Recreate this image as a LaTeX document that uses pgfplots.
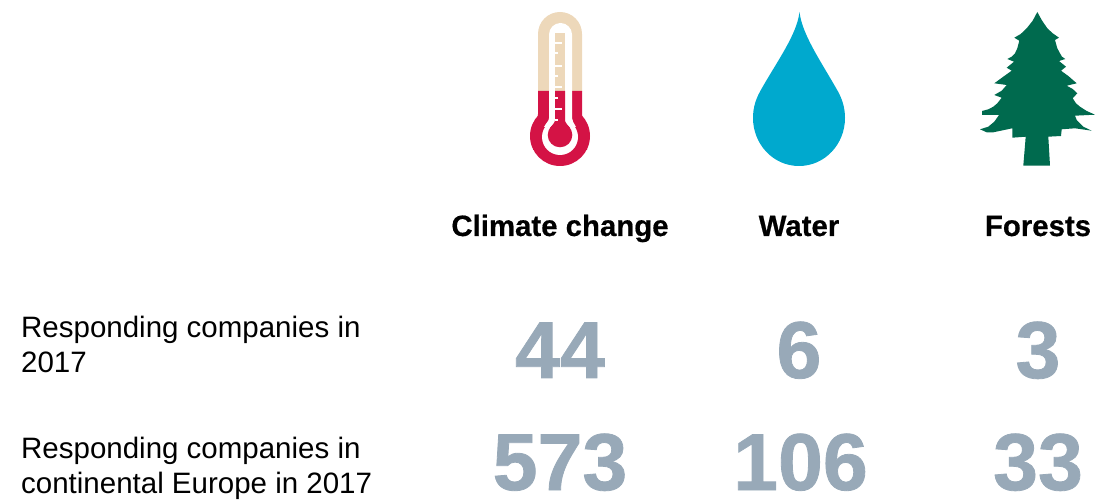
\documentclass[border=0pt]{standalone}
\usepackage{pgfplots}
\pgfplotsset{compat=1.18}
\usepackage{fontspec}
\setmainfont{Liberation Sans}
\newfontfamily\headfont[FakeBold=0.5]{Liberation Sans Bold}
\newfontfamily\numfont[FakeBold=1.0]{Liberation Sans Bold}
\definecolor{beige}{HTML}{EDD8BA}
\definecolor{crim}{HTML}{D41345}
\definecolor{drop}{HTML}{00A9CE}
\definecolor{tree}{HTML}{006A4E}
\definecolor{num}{HTML}{98A9B8}
\begin{document}
\begin{tikzpicture}
\begin{axis}[
  scale only axis, width=1095bp, height=500bp,
  xmin=0, xmax=1095, ymin=0, ymax=500, y dir=reverse,
  hide axis, clip=false,
]
\coordinate (tl) at (axis cs:0,0);
\coordinate (br) at (axis cs:1095,500);
% thermometer
\fill[beige] (axis cs:538,34) arc[start angle=180,end angle=0,radius=22bp] -- (axis cs:582,92) -- (axis cs:538,92) -- cycle;
\fill[crim] (axis cs:538,91) -- (axis cs:582,91) -- (axis cs:582,114) .. controls (axis cs:582,118) and (axis cs:584,120) .. (axis cs:587,124)
  -- (axis cs:587,150) -- (axis cs:533,150) -- (axis cs:533,124) .. controls (axis cs:536,120) and (axis cs:538,118) .. (axis cs:538,114) -- cycle;
\fill[crim] (axis cs:560,136) circle[radius=30bp];
\fill[white] (axis cs:549,34.5) arc[start angle=180,end angle=0,radius=11.5bp] -- (axis cs:572,118) .. controls (axis cs:572,121) and (axis cs:574,123) .. (axis cs:576,127) -- (axis cs:544,127) .. controls (axis cs:546,123) and (axis cs:549,121) .. (axis cs:549,118) -- cycle;
\fill[white] (axis cs:560,137) circle[radius=18bp];
\fill[beige] (axis cs:555,33) -- (axis cs:565,33) -- (axis cs:565,92) -- (axis cs:555,92) -- cycle;
\fill[crim] (axis cs:555,91) -- (axis cs:565,91) -- (axis cs:565,120) .. controls (axis cs:565,123) and (axis cs:568,125) .. (axis cs:570,128) -- (axis cs:550,128) .. controls (axis cs:552,125) and (axis cs:555,123) .. (axis cs:555,120) -- cycle;
\fill[crim] (axis cs:560,135) circle[radius=12.3bp];
\draw[white,line width=1.3bp] (axis cs:555,43) -- (axis cs:562,43) (axis cs:555,66) -- (axis cs:562,66) (axis cs:555,87) -- (axis cs:562,87) (axis cs:555,109) -- (axis cs:562,109);
\draw[white,line width=1.3bp] (axis cs:555,53) -- (axis cs:558,53) (axis cs:555,76) -- (axis cs:558,76) (axis cs:555,98) -- (axis cs:558,98) (axis cs:555,120) -- (axis cs:558,120);
% drop
\fill[drop] (axis cs:799.5,12) .. controls (axis cs:797,34) and (axis cs:778,60) .. (axis cs:762,88)
  .. controls (axis cs:756,98) and (axis cs:753,107) .. (axis cs:753,118)
  .. controls (axis cs:753,144) and (axis cs:773,166) .. (axis cs:799,166)
  .. controls (axis cs:825,166) and (axis cs:845,144) .. (axis cs:845,118)
  .. controls (axis cs:845,107) and (axis cs:842,98) .. (axis cs:836,88)
  .. controls (axis cs:820,60) and (axis cs:802,34) .. (axis cs:799.5,12) -- cycle;
% tree
\addplot[fill=tree,draw=none,line width=0pt] coordinates {
(1037.3,12)(1041.7,20)(1047.3,28.3)(1052.7,33.3)(1059,37.7)(1055,40)(1057.3,48.3)(1060,53.3)(1062,56.7)(1065.3,59)(1059,61)(1066,66.7)(1061,70.7)(1068.3,76)(1076.7,83.3)(1066.7,85.7)(1072.7,89)(1077.3,93.3)(1072.7,98.3)(1076,103.3)(1080,106.7)(1086.7,111)(1095,114.7)(1075,115.7)(1076.7,120)(1078.3,121.7)(1083.3,126.7)(1091.7,130.7)(1075,128.3)(1061.7,129.3)(1061,136)(1048.3,136.7)(1050,165.7)(1023.3,165.7)(1025.7,136.7)(1012.3,137.7)(1012.3,128.3)(993.3,132.3)(986.7,132.3)(980,129.3)(988.3,126.7)(994.3,121.7)(999,115)(982,115)(982,111)(988.3,109.3)(993.3,106.7)(997.3,103.3)(1001.7,97.7)(994.3,95)(1001.7,90.7)(1006.7,85)(994.3,83.3)(1003.3,76.7)(1011.7,70.7)(1006.7,67.7)(1014,61.7)(1007.3,59)(1011.7,56.7)(1015,53.3)(1017.3,48.3)(1019.3,40.7)(1014.3,37.7)(1020.7,34)(1026.7,28.3)(1032.7,20.7)
} -- cycle;
% column heads
\node[anchor=base,inner sep=0pt,font=\fontsize{29.5}{29.5}\selectfont\headfont] at (axis cs:560,236) {Climate change};
\node[anchor=base,inner sep=0pt,font=\fontsize{29.5}{29.5}\selectfont\headfont] at (axis cs:799,236) {Water};
\node[anchor=base,inner sep=0pt,font=\fontsize{29.5}{29.5}\selectfont\headfont] at (axis cs:1038,236) {Forests};
% row heads
\node[anchor=base west,inner sep=0pt,font=\fontsize{29.6}{29.6}\selectfont] at (axis cs:21,338) {Responding companies in};
\node[anchor=base west,inner sep=0pt,font=\fontsize{29.6}{29.6}\selectfont] at (axis cs:21,373) {2017};
\node[anchor=base west,inner sep=0pt,font=\fontsize{29.6}{29.6}\selectfont] at (axis cs:21,458) {Responding companies in};
\node[anchor=base west,inner sep=0pt,font=\fontsize{29.6}{29.6}\selectfont] at (axis cs:21,493) {continental Europe in 2017};
% values
\addplot[draw=none,mark=none,point meta=explicit symbolic,
  nodes near coords,
  nodes near coords style={anchor=base,inner sep=0pt,text=num,font=\fontsize{81}{81}\selectfont\numfont},
] table[meta=v,row sep=\\] {
x y v\\
560 378 44\\
799 378 6\\
1038 378 3\\
560 490 573\\
800.5 490 106\\
1038 490 33\\
};
\end{axis}
\pgfresetboundingbox
\path[use as bounding box] (tl) rectangle (br);
\end{tikzpicture}
\end{document}
